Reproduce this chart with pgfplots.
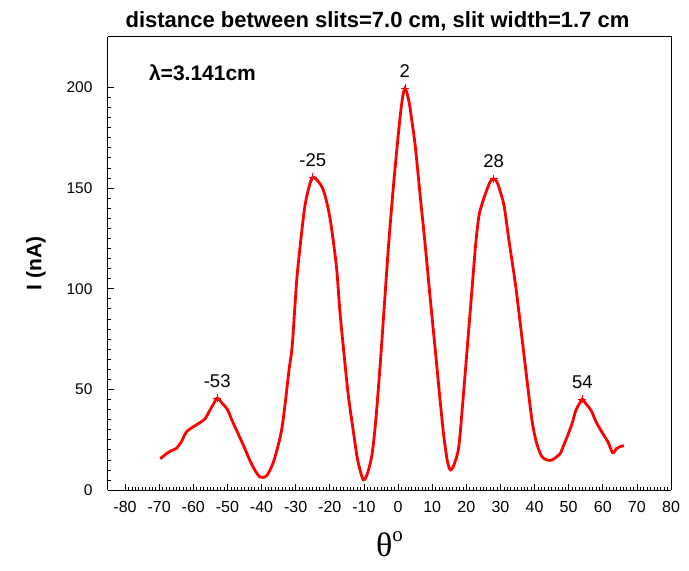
\documentclass[border=0pt]{standalone}
\usepackage{fontspec}
\setmainfont{Liberation Sans}
\newfontfamily\serifgr{Liberation Serif}
\usepackage{pgfplots}
\pgfplotsset{compat=1.18}

\begin{document}
\begin{tikzpicture}
\begin{axis}[
  at={(0,0)}, anchor=south west,
  scale only axis,
  width=563pt, height=453pt,
  xmin=-85, xmax=80, ymin=0, ymax=225,
  xtick={-80,-70,...,80},
  ytick={0,50,...,200},
  minor x tick num=9,
  minor y tick num=9,
  axis x line*=bottom, axis y line*=left,
  tick align=inside,
  major tick length=6pt, minor tick length=3pt,
  every tick/.style={black, line width=0.6pt},
  axis line style={line width=1pt},
  /pgf/number format/assume math mode=true,
  xticklabel style={font=\fontsize{16}{18}\selectfont, yshift=-8pt},
  yticklabel style={font=\fontsize{15.5}{18}\selectfont, xshift=-12pt},
  title={\bfseries distance between slits=7.0 cm, slit width=1.7 cm},
  title style={font=\fontsize{22}{25}\selectfont, xshift=-12pt, yshift=-3pt},
  xlabel={\serifgr\fontsize{34}{36}\selectfont θ\raisebox{0.45em}{\fontsize{21}{22}\selectfont o}},
  ylabel={\bfseries I (nA)},
  ylabel style={font=\fontsize{21}{24}\selectfont, yshift=14pt},
  xlabel style={yshift=-12pt},
  clip=false,
]
% top and right frame lines without ticks
\draw[line width=1pt] (rel axis cs:0,1) -- (rel axis cs:1,1) -- (rel axis cs:1,0);

\addplot[red, line width=2.8pt, smooth, tension=0.5] coordinates {
(-69.7,15.5) (-67.5,18.5) (-66.5,19.5) (-65,20.7) (-63.5,24) (-62,28.9)
(-60,31.4) (-58,33.5) (-56.5,35.5) (-55.5,38.5) (-54,43) (-53,45.7)
(-51.5,43) (-50,40) (-48.5,34) (-47,28.5) (-45,21) (-43.5,15) (-42,10)
(-40.5,6.5) (-39,6.5) (-38,8.3) (-36.5,14) (-35,23) (-34,31) (-33,44)
(-32,59) (-31,72) (-29.7,104) (-28.5,124) (-27.3,141) (-26,151) (-25,155.3)
(-23.5,153.5) (-21.9,149) (-20.5,140) (-19.4,129) (-18,110) (-17,88)
(-15.5,62) (-14.5,46) (-13,28) (-12,16.5) (-11,9) (-10.1,5) (-9,8)
(-7.6,18) (-6.5,35) (-5.2,63) (-4,92) (-2.8,121) (-1.5,148) (-0.3,170)
(1,191) (2,199.5) (3.2,193) (4,184) (5.1,170) (6.5,146) (8,121) (9.5,94)
(11,68) (12.3,45) (13.4,27) (14.5,14) (15.4,10) (16.5,13) (17.8,21.5)
(19,44) (20.3,71) (21.5,96) (22.7,121) (23.7,136) (24.7,142.5) (26,149)
(27,153) (28,154.6) (29,153) (30,148) (31.1,141) (32.5,124) (34.5,101)
(36.5,73) (38.4,46) (39.4,33) (40.5,24) (42,17) (43.5,15) (45,14.8)
(46.5,16.5) (47.5,18) (48.5,22) (49.7,27) (51,33) (52.1,39.5) (53.2,43)
(54,45.2) (55,43) (56.6,39.5) (58,34) (60,28) (61.5,24) (62.9,18.5)
(64,20.5) (65,21.5) (66.2,22)
};

\addplot[red, only marks, mark=+, mark size=4pt, line width=0.5pt,
  point meta=explicit symbolic,
  nodes near coords={\pgfplotspointmeta},
  nodes near coords style={black, font=\fontsize{18.5}{20}\selectfont, anchor=south, yshift=7pt}]
  coordinates {
(-53,45.7) [-53]
(-25,155.3) [-25]
(2,199.5) [2]
(28,154.6) [28]
(54,45.2) [54]
};

\node[anchor=west, font=\fontsize{21}{23}\selectfont\bfseries] at (axis cs:-74,207) {λ=3.141cm};
\end{axis}
\pgfresetboundingbox
\path (-108pt,-81pt) rectangle (581pt,490pt);
\end{tikzpicture}
\end{document}
